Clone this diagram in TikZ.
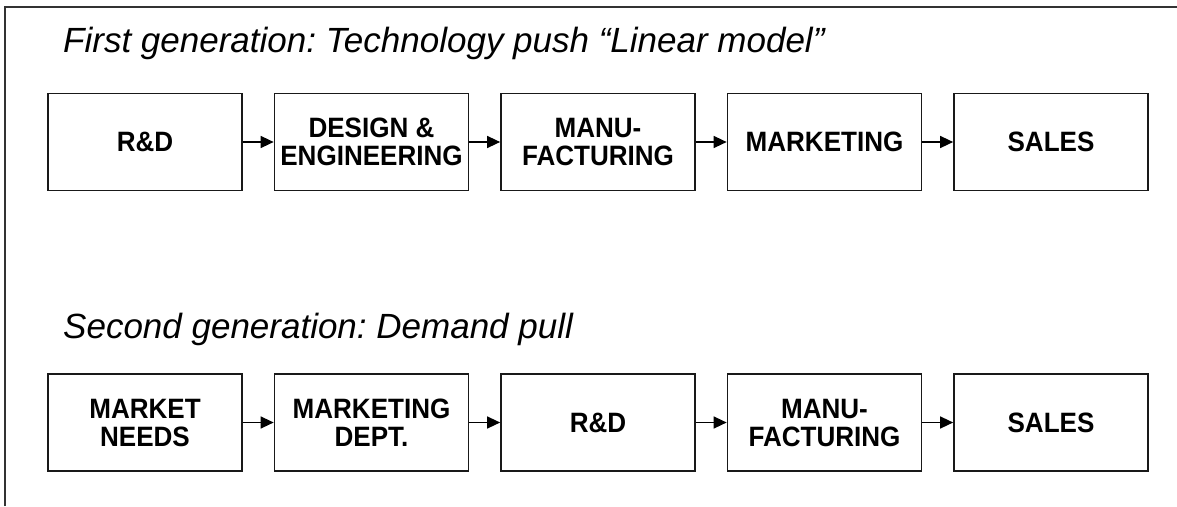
\documentclass[tikz,border=0pt]{standalone}
\usepackage{fontspec}
\setmainfont{Liberation Sans}
\usetikzlibrary{arrows.meta}
\frenchspacing
\tikzset{
  stagebox/.style={draw=black!90, line width=1.7pt, minimum width=194pt, minimum height=97pt,
    align=center, inner sep=0pt, font=\fontsize{28}{28}\selectfont\bfseries\addfontfeature{FakeStretch=0.93}},
  flow/.style={draw=black, line width=1.4pt, -{Triangle[length=13pt,width=12pt]}},
  heading/.style={anchor=base west, inner sep=0pt, font=\fontsize{35}{40}\selectfont\itshape},
  frameline/.style={draw=black!80, line width=2pt}
}
\begin{document}
\begin{tikzpicture}[x=1pt,y=-1pt]
\useasboundingbox (0,0) rectangle (1177,506);
\coordinate (fl) at (5,506);
\coordinate (fc) at (5,7);
\coordinate (fr) at (1177,7);
\draw[frameline] (fl) -- (fc) -- (fr);
\node[heading] (t1) at (63,52) {First generation: Technology push “Linear model”};
\node[heading] (t2) at (63,338) {Second generation: Demand pull};
% row 1
\node[stagebox] (a1) at (145,142) {R\&D};
\node[stagebox] (a2) at (371.5,142) {DESIGN \&\\ENGINEERING};
\node[stagebox] (a3) at (598,142) {MANU-\\FACTURING};
\node[stagebox] (a4) at (824.5,142) {MARKETING};
\node[stagebox] (a5) at (1051,142) {SALES};
% row 2
\node[stagebox] (b1) at (145,422.5) {MARKET\\NEEDS};
\node[stagebox] (b2) at (371.5,422.5) {MARKETING\\DEPT.};
\node[stagebox] (b3) at (598,422.5) {R\&D};
\node[stagebox] (b4) at (824.5,422.5) {MANU-\\FACTURING};
\node[stagebox] (b5) at (1051,422.5) {SALES};
\foreach \i/\j in {1/2,2/3,3/4,4/5}{
  \draw[flow] (a\i.east) -- (a\j.west);
  \draw[flow] (b\i.east) -- (b\j.west);
}
\end{tikzpicture}
\end{document}
